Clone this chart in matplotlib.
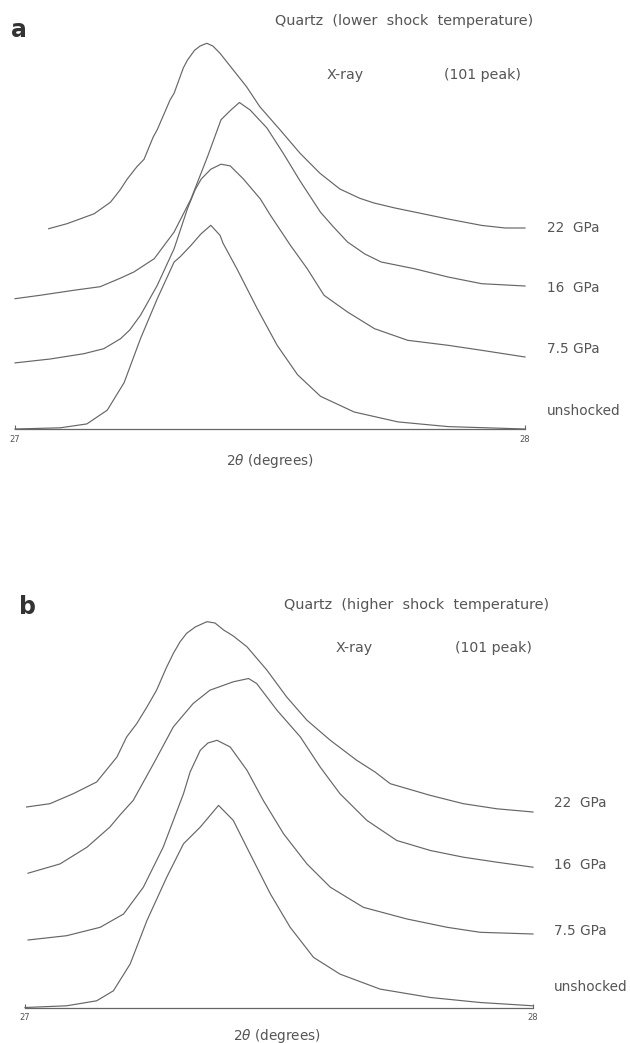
import matplotlib
matplotlib.use("Agg")
import matplotlib.pyplot as plt

W, H = 630, 1043

# ---------------- Panel a data (2theta in degrees, relative intensity) ----------------
a_22_x = [27.066, 27.102, 27.155, 27.187, 27.206, 27.220, 27.239, 27.253, 27.271, 27.279, 27.304,
          27.312, 27.330, 27.338, 27.352, 27.363, 27.376, 27.388, 27.402, 27.428, 27.454, 27.480,
          27.520, 27.559, 27.598, 27.637, 27.676, 27.704, 27.745, 27.783, 27.849, 27.915, 27.961, 28.000]
a_22_y = [200.3, 205.3, 215.2, 226.7, 239.0, 249.9, 262.3, 269.7, 292.0, 299.4, 329.0,
          335.8, 361.0, 368.8, 378.7, 383.0, 385.7, 383.0, 375.7, 359.0, 342.3, 322.3,
          299.0, 275.7, 255.7, 240.0, 230.7, 226.0, 221.0, 217.0, 210.0, 203.6, 201.0, 201.0]

a_16_x = [27.000, 27.049, 27.115, 27.167, 27.206, 27.233, 27.273, 27.312, 27.345, 27.378, 27.404,
          27.424, 27.440, 27.461, 27.494, 27.526, 27.559, 27.599, 27.624, 27.652, 27.686, 27.718,
          27.783, 27.849, 27.915, 28.000]
a_16_y = [130.3, 133.7, 138.7, 142.3, 150.7, 157.0, 170.3, 197.0, 230.0, 273.0, 309.3,
          319.3, 326.5, 319.0, 301.0, 275.7, 248.0, 216.8, 202.3, 187.0, 175.0, 167.0,
          160.3, 152.0, 145.3, 143.0]

a_75_x = [27.000, 27.069, 27.135, 27.174, 27.207, 27.225, 27.246, 27.279, 27.312, 27.338, 27.353,
          27.365, 27.384, 27.404, 27.422, 27.448, 27.481, 27.501, 27.540, 27.573, 27.606, 27.652,
          27.705, 27.770, 27.849, 27.915, 28.000]
a_75_y = [66.1, 70.0, 75.3, 80.3, 90.3, 99.0, 113.7, 143.7, 180.3, 220.1, 239.0,
          249.9, 259.8, 264.8, 263.1, 249.9, 230.1, 213.6, 183.7, 160.3, 133.7, 117.0,
          100.3, 88.7, 83.7, 78.7, 72.0]

a_un_x = [27.000, 27.089, 27.141, 27.181, 27.214, 27.246, 27.279, 27.312, 27.324, 27.345, 27.365,
          27.384, 27.402, 27.408, 27.435, 27.475, 27.514, 27.554, 27.599, 27.665, 27.751, 27.849, 28.000]
a_un_y = [0.0, 1.2, 5.1, 18.9, 46.4, 90.3, 130.3, 167.0, 172.3, 183.6, 195.3,
          203.7, 193.7, 185.7, 160.3, 120.3, 83.7, 54.3, 32.7, 17.0, 7.1, 2.4, 0.0]

# ---------------- Panel b data ----------------
b_22_x = [27.003, 27.049, 27.095, 27.141, 27.181, 27.200, 27.220, 27.240, 27.259, 27.278, 27.292,
          27.305, 27.318, 27.335, 27.358, 27.374, 27.391, 27.410, 27.437, 27.476, 27.515, 27.555,
          27.601, 27.653, 27.689, 27.719, 27.798, 27.863, 27.929, 28.000]
b_22_y = [200.5, 203.8, 213.8, 225.5, 250.5, 270.5, 283.9, 300.5, 317.3, 339.5, 354.1,
          365.5, 374.1, 380.5, 385.8, 384.5, 377.5, 371.5, 360.7, 337.5, 310.6, 287.3,
          267.2, 247.2, 235.5, 223.8, 212.1, 203.8, 198.7, 195.5]

b_16_x = [27.006, 27.069, 27.122, 27.167, 27.187, 27.213, 27.253, 27.292, 27.331, 27.364, 27.410,
          27.440, 27.456, 27.496, 27.542, 27.581, 27.620, 27.673, 27.732, 27.798, 27.863, 27.929, 28.000]
b_16_y = [134.3, 143.6, 160.3, 180.4, 192.5, 207.1, 243.8, 280.6, 304.0, 317.3, 325.7,
          329.0, 324.0, 297.3, 270.6, 240.5, 213.8, 187.1, 167.0, 157.0, 150.3, 145.3, 140.3]

b_75_x = [27.006, 27.082, 27.148, 27.194, 27.233, 27.272, 27.312, 27.325, 27.345, 27.360, 27.378,
          27.404, 27.437, 27.469, 27.509, 27.555, 27.601, 27.666, 27.752, 27.831, 27.896, 28.000]
b_75_y = [67.5, 71.8, 80.2, 93.5, 120.3, 160.3, 213.8, 235.5, 257.2, 264.5, 267.2,
          260.5, 237.2, 207.1, 173.7, 143.6, 120.3, 100.2, 88.5, 80.2, 75.2, 73.5]

b_un_x = [27.000, 27.082, 27.141, 27.174, 27.207, 27.240, 27.279, 27.312, 27.345, 27.381, 27.410,
          27.443, 27.483, 27.522, 27.568, 27.620, 27.699, 27.798, 27.896, 28.000]
b_un_y = [0.0, 1.7, 6.7, 16.7, 43.5, 86.9, 130.3, 163.7, 180.4, 202.1, 187.1,
          153.7, 113.6, 80.2, 50.1, 33.4, 18.4, 10.0, 5.0, 1.7]

series_labels = ["22  GPa", "16  GPa", "7.5 GPa", "unshocked"]
tick_values = [27, 28]
tick_labels = ["27", "28"]

LINE = "#666666"
TXT = "#555555"

fig = plt.figure(figsize=(W / 100, H / 100), dpi=100)
fig.patch.set_facecolor("white")


def fx(px):
    return px / W


def fy(py):
    return 1 - py / H


def make_axes(left, right, base, top):
    ax = fig.add_axes([fx(left), fy(base), (right - left) / W, (base - top) / H])
    ax.set_xlim(27, 28)
    ax.set_ylim(0, base - top)
    for s in ["top", "left", "right"]:
        ax.spines[s].set_visible(False)
    ax.spines["bottom"].set_color(LINE)
    ax.spines["bottom"].set_linewidth(0.9)
    ax.set_yticks([])
    ax.set_xticks(tick_values)
    ax.set_xticklabels(tick_labels)
    ax.tick_params(axis="x", direction="in", length=3, width=0.8, color=LINE,
                   labelsize=6, labelcolor=TXT, pad=4)
    ax.patch.set_alpha(0)
    return ax


# Panel a
ax_a = make_axes(15, 525, 429, 30)
for xs, ys in [(a_22_x, a_22_y), (a_16_x, a_16_y), (a_75_x, a_75_y), (a_un_x, a_un_y)]:
    ax_a.plot(xs, ys, color=LINE, lw=0.85, clip_on=False)

# Panel b
ax_b = make_axes(25, 533, 1007.5, 607)
for xs, ys in [(b_22_x, b_22_y), (b_16_x, b_16_y), (b_75_x, b_75_y), (b_un_x, b_un_y)]:
    ax_b.plot(xs, ys, color=LINE, lw=0.85, clip_on=False)

fs_title = 10.4
fs_hdr = 10.2
fs_lab = 9.8
# Panel a text
fig.text(fx(11), fy(30), "a", fontsize=17, fontweight="bold", color="#333333", va="center", ha="left")
fig.text(fx(275), fy(21), "Quartz  (lower  shock  temperature)", fontsize=fs_title, color=TXT,
         va="center", ha="left")
fig.text(fx(327), fy(75), "X-ray", fontsize=fs_hdr, color=TXT, va="center", ha="left")
fig.text(fx(444), fy(75), "(101 peak)", fontsize=fs_hdr, color=TXT, va="center", ha="left")
for lab, py in zip(series_labels, [228, 288, 349, 411]):
    fig.text(fx(547), fy(py), lab, fontsize=fs_lab, color=TXT, va="center", ha="left")
fig.text(fx(270), fy(461), "2$\\theta$ (degrees)", fontsize=fs_lab, color=TXT, va="center", ha="center")

# Panel b text
fig.text(fx(19), fy(607), "b", fontsize=17, fontweight="bold", color="#333333", va="center", ha="left")
fig.text(fx(284), fy(605), "Quartz  (higher  shock  temperature)", fontsize=fs_title, color=TXT,
         va="center", ha="left")
fig.text(fx(336), fy(648), "X-ray", fontsize=fs_hdr, color=TXT, va="center", ha="left")
fig.text(fx(455), fy(648), "(101 peak)", fontsize=fs_hdr, color=TXT, va="center", ha="left")
for lab, py in zip(series_labels, [803, 865, 931, 987]):
    fig.text(fx(554), fy(py), lab, fontsize=fs_lab, color=TXT, va="center", ha="left")
fig.text(fx(277), fy(1036), "2$\\theta$ (degrees)", fontsize=fs_lab, color=TXT, va="center", ha="center")

fig.savefig("out.png", dpi=100, facecolor="white")
